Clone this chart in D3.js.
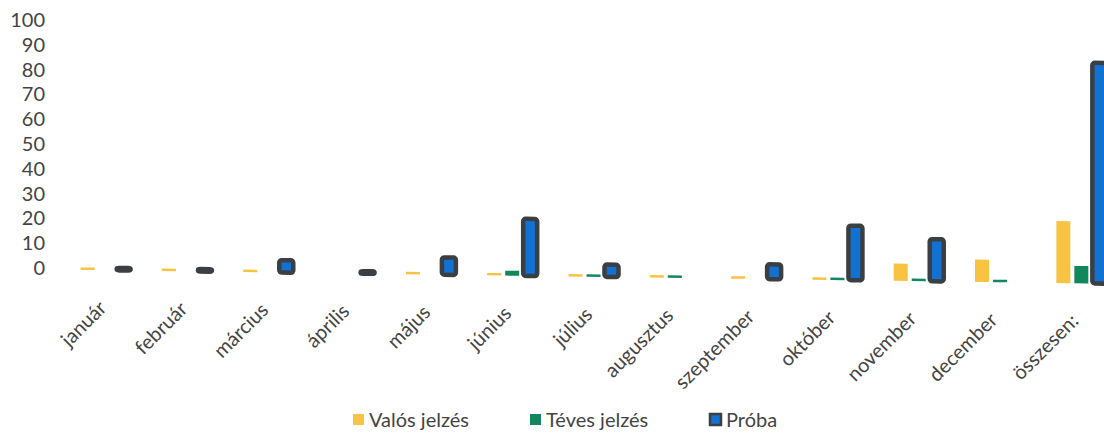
<!doctype html>
<html>
<head>
    <meta charset="utf-8"/>
    <style>
        html, body {
            margin: 0;
            padding: 0;
            background: #fff;
        }
        svg {
            display: block;
        }
        .ylab, .xlab, .legend text {
            font-family: Lato, "Open Sans", sans-serif;
            fill: #444;
        }
    </style>
    <script src="https://d3js.org/d3.v7.min.js"></script>
</head>
<body>
<svg width="1104" height="436"></svg>
<script>

    // Data
    var categories = ["január", "február", "március", "április", "május", "június", "július",
        "augusztus", "szeptember", "október", "november", "december", "összesen:"];
    var valos = [1, 1, 1, 0, 1, 1, 1, 1, 1, 1, 7, 9, 25];
    var teves = [0, 0, 0, 0, 0, 2, 1, 1, 0, 1, 1, 1, 7];
    var proba = [1, 1, 5, 1, 7, 23, 5, 0, 6, 22, 17, 0, 89];
    var yTicks = [0, 10, 20, 30, 40, 50, 60, 70, 80, 90, 100];

    var seriesNames = ["Valós jelzés", "Téves jelzés", "Próba"];
    var colors = ["#f8c343", "#12875e", "#1272d2"];

    var svg = d3.select("svg");

    var x = d3.scaleBand().domain(categories).range([65, 1122]);
    var inner = d3.scaleBand().domain(seriesNames).range([-27, 27]);
    var y = d3.scaleLinear().domain([0, 100]).range([268, 20]);

    // y labels
    svg.append("g").selectAll("text").data(yTicks).enter().append("text")
        .attr("class", "ylab")
        .attr("x", 45)
        .attr("y", function(d) { return y(d); })
        .attr("dy", "0.35em")
        .attr("text-anchor", "end")
        .style("font-size", "20px")
        .text(function(d) { return d; });

    // the scanned chart is slightly tilted: baseline drops to the right
    var tilt = 0.77;
    var plot = svg.append("g")
        .attr("transform", "translate(88,2) skewY(" + tilt + ") translate(-88,0)");

    var rows = categories.map(function(c, i) {
        return {cat: c, vals: [valos[i], teves[i], proba[i]]};
    });

    var bw = 14;
    rows.forEach(function(r) {
        r.vals.forEach(function(v, k) {
            if (!v) return;
            var cx = x(r.cat) + x.bandwidth() / 2 + inner(seriesNames[k]) + inner.bandwidth() / 2;
            var rect = plot.append("rect")
                .attr("x", cx - bw / 2)
                .attr("y", y(v))
                .attr("width", bw)
                .attr("height", y(0) - y(v))
                .attr("fill", colors[k]);
            if (k === 2) {
                rect.attr("stroke", "#3b3e42")
                    .attr("stroke-width", 4.5)
                    .attr("rx", 2.5);
            }
        });
    });

    // x labels, rotated
    var xl = svg.append("g");
    categories.forEach(function(c, i) {
        var px = x(c) + x.bandwidth() / 2 + 2 - i * 0.3;
        var py = 309 + (px - 88) * Math.tan(tilt * Math.PI / 180);
        xl.append("text")
            .attr("class", "xlab")
            .attr("transform", "translate(" + px + "," + py + ") rotate(-45)")
            .attr("text-anchor", "end")
            .style("font-size", "20px")
            .text(c);
    });

    // legend
    var legendX = [353, 530, 710];
    var lg = svg.append("g").attr("class", "legend");
    seriesNames.forEach(function(s, k) {
        var g = lg.append("g").attr("transform", "translate(" + legendX[k] + ",414)");
        var sq = g.append("rect")
            .attr("width", 11).attr("height", 11)
            .attr("fill", colors[k]);
        if (k === 2) sq.attr("stroke", "#3b3e42").attr("stroke-width", 2.5);
        g.append("text")
            .attr("x", 16)
            .attr("y", 6)
            .attr("dy", "0.35em")
            .style("font-size", "20px")
            .text(s);
    });

</script>
</body>
</html>
